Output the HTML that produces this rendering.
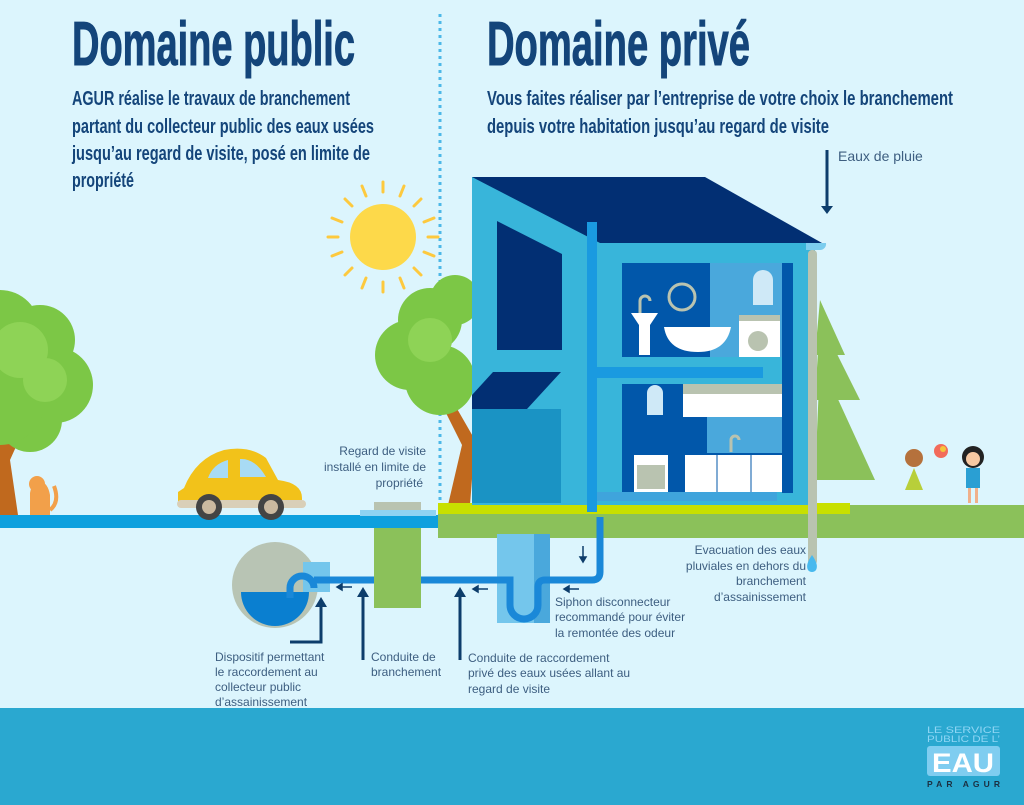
<!DOCTYPE html>
<html><head><meta charset="utf-8"><style>
html,body{margin:0;padding:0;background:#dcf5fd;}
svg{display:block}
.h{font-family:"Liberation Sans Narrow","Liberation Sans",sans-serif;font-weight:bold;fill:#14457a}
.l{font-family:"Liberation Sans",sans-serif;font-size:12px;fill:#3d5e80}
</style></head><body>
<svg width="1024" height="805" viewBox="0 0 1024 805" xmlns="http://www.w3.org/2000/svg">
<rect width="1024" height="805" fill="#dcf5fd"/>
<text class="h" x="72" y="65" font-size="62" stroke="#14457a" stroke-width="1" textLength="283" lengthAdjust="spacingAndGlyphs">Domaine public</text>
<text class="h" x="487" y="65" font-size="62" stroke="#14457a" stroke-width="1" textLength="263" lengthAdjust="spacingAndGlyphs">Domaine privé</text>
<g class="h" font-size="20">
<text x="72" y="105" textLength="278" lengthAdjust="spacingAndGlyphs">AGUR réalise le travaux de branchement</text>
<text x="72" y="133" textLength="302" lengthAdjust="spacingAndGlyphs">partant du collecteur public des eaux usées</text>
<text x="72" y="160" textLength="298" lengthAdjust="spacingAndGlyphs">jusqu’au regard de visite, posé en limite de</text>
<text x="72" y="187" textLength="62" lengthAdjust="spacingAndGlyphs">propriété</text>
<text x="487" y="105" textLength="466" lengthAdjust="spacingAndGlyphs">Vous faites réaliser par l’entreprise de votre choix le branchement</text>
<text x="487" y="133" textLength="342" lengthAdjust="spacingAndGlyphs">depuis votre habitation jusqu’au regard de visite</text>
</g>
<line x1="440" y1="14" x2="440" y2="500" stroke="#4cb8e8" stroke-width="3" stroke-dasharray="3,4"/>
<g stroke="#fdc93e" stroke-width="3" stroke-linecap="round">
<line x1="383" y1="182" x2="383" y2="192"/><line x1="383" y1="282" x2="383" y2="292"/>
<line x1="328" y1="237" x2="338" y2="237"/><line x1="428" y1="237" x2="438" y2="237"/>
<line x1="345" y1="199" x2="352" y2="206"/><line x1="414" y1="268" x2="421" y2="275"/>
<line x1="421" y1="199" x2="414" y2="206"/><line x1="352" y1="268" x2="345" y2="275"/>
<line x1="362" y1="186" x2="366" y2="196"/><line x1="404" y1="186" x2="400" y2="196"/>
<line x1="362" y1="288" x2="366" y2="278"/><line x1="404" y1="288" x2="400" y2="278"/>
<line x1="332" y1="218" x2="342" y2="222"/><line x1="332" y1="256" x2="342" y2="252"/>
<line x1="434" y1="218" x2="424" y2="222"/><line x1="434" y1="256" x2="424" y2="252"/>
</g>
<circle cx="383" cy="237" r="33" fill="#fdd94a"/>
<path d="M-5 450 L20 415 L28 420 L10 460 L18 515 L0 515Z" fill="#c0691e"/>
<g fill="#7cc746">
<circle cx="0" cy="330" r="40"/><circle cx="40" cy="340" r="35"/><circle cx="55" cy="385" r="38"/><circle cx="30" cy="420" r="32"/><circle cx="0" cy="400" r="45"/>
</g>
<g fill="#8ed356"><circle cx="20" cy="350" r="28"/><circle cx="45" cy="380" r="22"/></g>
<path d="M442 405 L452 400 L475 440 L470 505 L448 505 L462 445Z" fill="#c0691e"/>
<g fill="#7cc746"><circle cx="430" cy="320" r="32"/><circle cx="410" cy="355" r="35"/><circle cx="440" cy="380" r="35"/><circle cx="455" cy="300" r="25"/></g>
<g fill="#8ed356"><circle cx="430" cy="340" r="22"/></g>
<g fill="#8bc15a"><polygon points="820,300 845,355 815,355"/><polygon points="820,320 860,400 815,400"/><polygon points="820,360 875,480 815,480"/></g>
<rect x="0" y="515" width="440" height="13" fill="#0ea0de"/>
<rect x="438" y="505" width="586" height="33" fill="#8bc15a"/>
<rect x="438" y="503" width="412" height="11" fill="#c8e000"/>
<rect x="472" y="177" width="120" height="328" fill="#38b5da"/>
<polygon points="497,221 562,254 562,350 497,350" fill="#022f73"/>
<polygon points="493,372 561,372 527,409 472,409 472,395" fill="#022f73"/>
<rect x="472" y="409" width="89" height="94" fill="#1a93c4"/>
<rect x="590" y="240" width="225" height="265" fill="#38b5da"/>
<polygon points="472,177 705,177 822,243 600,243" fill="#022f73"/>
<rect x="622" y="263" width="160" height="94" fill="#0157aa"/>
<rect x="710" y="263" width="72" height="94" fill="#4aa8dc"/>
<rect x="782" y="263" width="11" height="230" fill="#0157aa"/>
<rect x="622" y="384" width="160" height="108" fill="#0157aa"/>
<rect x="707" y="403" width="75" height="50" fill="#4aa8dc"/>
<circle cx="682" cy="297" r="13" fill="none" stroke="#b9c3b0" stroke-width="3"/>
<path d="M631 313 h27 l-8 12 v30 h-11 v-30 z" fill="#fff"/>
<path d="M640 313 v-12 a5 5 0 0 1 10 0" fill="none" stroke="#b9c3b0" stroke-width="3"/>
<path d="M664 327 h67 q-5 25 -33 25 q-30 0 -34 -25z" fill="#fff"/>
<path d="M753 280 a10 10 0 0 1 20 0 v25 h-20z" fill="#cfe9f7"/>
<rect x="739" y="315" width="41" height="42" fill="#fff"/><rect x="739" y="315" width="41" height="6" fill="#b9c3b0"/>
<circle cx="758" cy="341" r="10" fill="#b9c3b0"/>
<path d="M647 393 a8 8 0 0 1 16 0 v22 h-16z" fill="#cfe9f7"/>
<rect x="683" y="384" width="99" height="33" fill="#fff"/><rect x="683" y="384" width="99" height="10" fill="#b9c3b0"/>
<rect x="634" y="455" width="34" height="37" fill="#fff"/><rect x="637" y="465" width="28" height="24" fill="#b9c3b0"/>
<rect x="685" y="455" width="97" height="37" fill="#fff"/>
<line x1="717" y1="455" x2="717" y2="492" stroke="#0157aa"/><line x1="751" y1="455" x2="751" y2="492" stroke="#0157aa"/>
<path d="M731 452 v-12 a4 4 0 0 1 8 0" fill="none" stroke="#b9c3b0" stroke-width="3"/>
<rect x="587" y="222" width="10" height="290" fill="#1a9ae0"/>
<rect x="597" y="367" width="166" height="11" fill="#1a9ae0"/>
<rect x="597" y="492" width="180" height="9" fill="#3fa4dc"/>
<rect x="808" y="250" width="9" height="315" rx="4" fill="#b9c3b0"/>
<path d="M806 243 h20 a6 6 0 0 1 -6 7 h-14z" fill="#7ccdee"/>
<path d="M812 555 q-7 10 -4 15 a5 5 0 0 0 8 0 q3 -5 -4 -15z" fill="#48b9ee"/>
<path d="M184 488 q12 -30 40 -38 q25 -5 42 8 l12 22 q24 3 24 18 v8 h-124 v-14z" fill="#f2c21a"/>
<path d="M208 478 q5 -14 20 -18 v18z M240 459 q15 -1 26 18 h-26z" fill="#a8dbf4"/>
<rect x="177" y="500" width="129" height="8" rx="4" fill="#d9cfb8"/>
<circle cx="209" cy="507" r="13" fill="#444"/><circle cx="209" cy="507" r="7" fill="#cbb9a0"/>
<circle cx="271" cy="507" r="13" fill="#444"/><circle cx="271" cy="507" r="7" fill="#cbb9a0"/>
<path d="M30 515 v-22 q2 -12 10 -12 q8 2 10 14 v20z" fill="#f2a04a"/>
<circle cx="37" cy="484" r="8" fill="#f2a04a"/>
<path d="M50 510 q10 -8 4 -24" stroke="#f2a04a" stroke-width="4" fill="none"/>
<circle cx="914" cy="458" r="9" fill="#b5713c"/><path d="M905 490 l9 -22 l9 22z" fill="#b8cf3a"/>
<circle cx="941" cy="451" r="7" fill="#f26b5b"/><circle cx="943" cy="449" r="3" fill="#f5c53a"/>
<circle cx="973" cy="457" r="11" fill="#222"/><circle cx="973" cy="459" r="7" fill="#f7c9a3"/>
<rect x="966" y="468" width="14" height="20" fill="#2a9fd3"/><rect x="968" y="488" width="3" height="15" fill="#f0b08a"/><rect x="975" y="488" width="3" height="15" fill="#f0b08a"/>
<rect x="374" y="502" width="47" height="8" fill="#b9c3b0"/>
<rect x="360" y="510" width="76" height="6" fill="#8fd3f2"/>
<rect x="374" y="528" width="47" height="80" fill="#8bc15a"/>
<rect x="497" y="534" width="53" height="89" fill="#74c6ec"/>
<rect x="534" y="534" width="16" height="89" fill="#4aa8dc"/>
<circle cx="275" cy="585" r="43" fill="#b8c4b4"/>
<path d="M241 592 h68 a34 34 0 0 1 -68 0z" fill="#0a7fd0"/>
<rect x="303" y="562" width="27" height="30" fill="#74c6ec"/>
<g fill="none" stroke="#1a88d8" stroke-width="7">
<path d="M290 598 v-10 a12 12 0 0 1 24 0 M314 580 h60 M421 580 h89 v25 a14 14 0 0 0 28 0 v-18 q0 -7 7 -7 h47 q8 0 8 -8 v-55"/>
</g>
<g stroke="#0d3d6b" stroke-width="3" fill="#0d3d6b">
<line x1="363" y1="660" x2="363" y2="595"/><polygon points="357,597 369,597 363,587" stroke="none"/>
<line x1="460" y1="660" x2="460" y2="595"/><polygon points="454,597 466,597 460,587" stroke="none"/>
<polyline points="290,642 321,642 321,605" fill="none"/><polygon points="315,607 327,607 321,597" stroke="none"/>
<line x1="827" y1="150" x2="827" y2="208"/><polygon points="821,206 833,206 827,214" stroke="none"/>
</g>
<g stroke="#0d3d6b" stroke-width="1.5" fill="#0d3d6b">
<line x1="340" y1="587" x2="352" y2="587"/><polygon points="337,587 342,584 342,590"/>
<line x1="476" y1="589" x2="488" y2="589"/><polygon points="473,589 478,586 478,592"/>
<line x1="567" y1="589" x2="579" y2="589"/><polygon points="564,589 569,586 569,592"/>
<line x1="583" y1="546" x2="583" y2="558"/><polygon points="583,562 580,557 586,557"/>
</g>
<g class="l">
<text x="838" y="161" font-size="14">Eaux de pluie</text>
<text x="426" y="455" text-anchor="end">Regard de visite</text>
<text x="426" y="471" text-anchor="end">installé en limite de</text>
<text x="423" y="487" text-anchor="end">propriété</text>
<text x="215" y="661">Dispositif permettant</text>
<text x="215" y="676">le raccordement au</text>
<text x="215" y="691">collecteur public</text>
<text x="215" y="706">d’assainissement</text>
<text x="371" y="661">Conduite de</text>
<text x="371" y="676">branchement</text>
<text x="468" y="662">Conduite de raccordement</text>
<text x="468" y="677">privé des eaux usées allant au</text>
<text x="468" y="693">regard de visite</text>
<text x="555" y="606">Siphon disconnecteur</text>
<text x="555" y="621">recommandé pour éviter</text>
<text x="555" y="637">la remontée des odeur</text>
<text x="806" y="554" text-anchor="end">Evacuation des eaux</text>
<text x="806" y="570" text-anchor="end">pluviales en dehors du</text>
<text x="806" y="585" text-anchor="end">branchement</text>
<text x="806" y="601" text-anchor="end">d’assainissement</text>
</g>
<rect x="0" y="708" width="1024" height="97" fill="#2aa8d0"/>
<g font-family="Liberation Sans,sans-serif">
<text x="927" y="733" font-size="9.5" fill="#8fd6f5" textLength="73" lengthAdjust="spacingAndGlyphs">LE SERVICE</text>
<text x="927" y="742" font-size="9.5" fill="#8fd6f5" textLength="73" lengthAdjust="spacingAndGlyphs">PUBLIC DE L’</text>
<rect x="927" y="746" width="73" height="30" rx="3" fill="#7fcdf0"/>
<text x="963" y="772" font-size="27" font-weight="bold" fill="#fff" text-anchor="middle" textLength="62" lengthAdjust="spacingAndGlyphs">EAU</text>
<text x="927" y="787" font-size="8.5" font-weight="bold" fill="#1b2e40" textLength="73" lengthAdjust="spacing">PAR AGUR</text>
</g>
</svg>
</body></html>
